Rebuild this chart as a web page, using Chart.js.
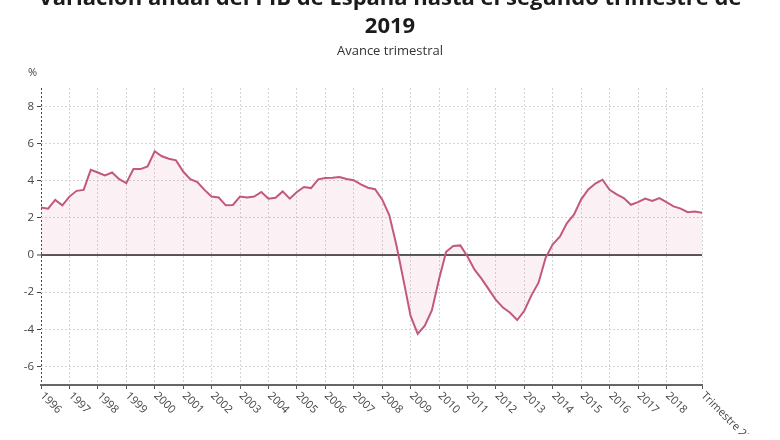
<!DOCTYPE html>
<html lang="es">
<head>
<meta charset="UTF-8">
<title>Variación anual del PIB de España</title>
<script src="https://cdn.jsdelivr.net/npm/chart.js@4.4.1/dist/chart.umd.min.js"></script>
<style>
    html, body { margin: 0; padding: 0; background: #fff; }
    body { width: 780px; height: 440px; overflow: hidden; position: relative; font-family: 'Open Sans', sans-serif; }
    #chartCanvas { position: absolute; left: 0; top: 0; }
    .title { position: absolute; left: 0; top: -18px; width: 780px; text-align: center; font-size: 22px; font-weight: 700; line-height: 28px; color: #1b1b1b; }
    .title div { white-space: nowrap; }
    .subtitle { position: absolute; left: 0; top: 42px; width: 780px; text-align: center; font-size: 13px; line-height: 16px; color: #333; }
</style>
</head>
<body>
<canvas id="chartCanvas" width="780" height="440"></canvas>
<div class="title">
    <div>Variación anual del PIB de España hasta el segundo trimestre de</div>
    <div>2019</div>
</div>
<div class="subtitle">Avance trimestral</div>

<script>
// Tasa de variación anual, un valor por trimestre (1996 T1 .. 2019 T2)
const firstYear = 1996;
const growth = [
    2.56, 2.50, 2.97, 2.68,   // 1996
    3.15, 3.46, 3.51, 4.59,   // 1997
    4.45, 4.29, 4.45, 4.09,   // 1998
    3.87, 4.63, 4.63, 4.77,   // 1999
    5.59, 5.32, 5.19, 5.10,   // 2000
    4.50, 4.09, 3.93, 3.51,   // 2001
    3.15, 3.10, 2.68, 2.70,   // 2002
    3.15, 3.10, 3.15, 3.40,   // 2003
    3.04, 3.09, 3.43, 3.04,   // 2004
    3.40, 3.67, 3.61, 4.08,   // 2005
    4.15, 4.17, 4.20, 4.10,   // 2006
    4.03, 3.81, 3.63, 3.55,   // 2007
    3.00, 2.16, 0.54, -1.35,  // 2008
    -3.28, -4.25, -3.80, -2.97, // 2009
    -1.30, 0.18, 0.49, 0.52,  // 2010
    -0.08, -0.79, -1.28, -1.85, // 2011
    -2.42, -2.83, -3.11, -3.50, // 2012
    -3.00, -2.17, -1.49, -0.15, // 2013
    0.58, 0.99, 1.72, 2.19,   // 2014
    3.00, 3.54, 3.85, 4.06,   // 2015
    3.52, 3.27, 3.07, 2.71,   // 2016
    2.85, 3.04, 2.91, 3.07,   // 2017
    2.85, 2.62, 2.50, 2.31,   // 2018
    2.34, 2.28                // 2019
];

const xTickValues = [1996, 1997, 1998, 1999, 2000, 2001, 2002, 2003, 2004, 2005, 2006, 2007,
    2008, 2009, 2010, 2011, 2012, 2013, 2014, 2015, 2016, 2017, 2018, 2019.25];
const xTickLabels = ['1996', '1997', '1998', '1999', '2000', '2001', '2002', '2003', '2004', '2005', '2006', '2007',
    '2008', '2009', '2010', '2011', '2012', '2013', '2014', '2015', '2016', '2017', '2018', 'Trimestre 2019'];
const yTickValues = [-6, -4, -2, 0, 2, 4, 6, 8];
const yUnit = '%';

class GdpChart {
    constructor() {
        this.canvas = document.getElementById('chartCanvas');
        this.points = growth.map((v, i) => ({ x: firstYear + i / 4, y: v }));
        this.createChart();
    }

    // x tick labels are drawn by hand: they run clockwise from the tick
    axisLabelPlugin() {
        return {
            id: 'axisLabels',
            afterDraw(chart) {
                const { ctx } = chart;
                const x = chart.scales.x;
                ctx.save();
                // the original image cuts the last label short
                ctx.beginPath();
                ctx.rect(0, 0, chart.width, 434);
                ctx.clip();
                ctx.font = '11px "Open Sans"';
                ctx.fillStyle = '#444';
                ctx.textAlign = 'left';
                ctx.textBaseline = 'middle';
                xTickValues.forEach((value, i) => {
                    const px = x.getPixelForValue(value);
                    ctx.save();
                    ctx.translate(px + 1, x.top + 9);
                    ctx.rotate(Math.PI / 4);
                    ctx.fillText(xTickLabels[i], 0, 0);
                    ctx.restore();
                });
                ctx.fillText(yUnit, 28, 73);
                ctx.restore();
            }
        };
    }

    createChart() {
        const ctx = this.canvas.getContext('2d');
        this.chart = new Chart(ctx, {
            type: 'line',
            data: {
                datasets: [{
                    data: this.points,
                    borderColor: '#c2587f',
                    borderWidth: 2,
                    backgroundColor: 'rgba(214, 120, 160, 0.10)',
                    fill: 'origin',
                    pointRadius: 0,
                    tension: 0
                }]
            },
            options: {
                responsive: false,
                animation: false,
                layout: {
                    padding: { top: 88, right: 78, left: 0, bottom: 0 }
                },
                plugins: {
                    legend: { display: false },
                    tooltip: { enabled: false }
                },
                scales: {
                    x: {
                        type: 'linear',
                        min: 1996,
                        max: 2019.25,
                        afterBuildTicks: scale => {
                            scale.ticks = xTickValues.map(v => ({ value: v }));
                        },
                        afterFit: scale => { scale.height = 55; },
                        ticks: { display: false },
                        grid: {
                            color: c => (c.tick && c.tick.value === 1996) ? '#444' : '#d4d4d4',
                            lineWidth: 1,
                            tickLength: 4,
                            tickColor: '#555'
                        },
                        border: { display: true, color: '#666', width: 2, dash: [2, 2] }
                    },
                    y: {
                        min: -7,
                        max: 9,
                        afterBuildTicks: scale => {
                            scale.ticks = yTickValues.map(v => ({ value: v }));
                        },
                        afterFit: scale => { scale.width = 41; },
                        ticks: {
                            font: { family: 'Open Sans', size: 11.5 },
                            color: '#444',
                            padding: 3
                        },
                        grid: {
                            color: c => (c.tick && c.tick.value === 0) ? '#555' : '#d4d4d4',
                            lineWidth: c => (c.tick && c.tick.value === 0) ? 2 : 1,
                            tickLength: 4,
                            tickColor: '#444',
                            tickWidth: 1
                        },
                        border: {
                            display: false,
                            dash: c => (c.tick && c.tick.value === 0) ? [] : [2, 2]
                        }
                    }
                }
            },
            plugins: [this.axisLabelPlugin()]
        });
    }
}

new GdpChart();
</script>
</body>
</html>
